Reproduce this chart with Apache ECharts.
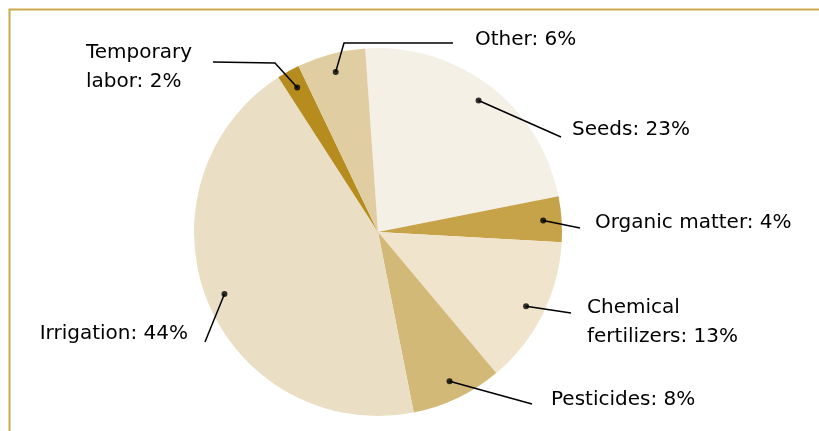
<!DOCTYPE html>
<html>
<head>
<meta charset="utf-8">
<script src="https://cdn.jsdelivr.net/npm/echarts@6/dist/echarts.min.js"></script>
<style>html,body{margin:0;padding:0;background:#fff;}#c{width:819px;height:431px;}</style>
</head>
<body>
<div id="c"></div>
<script>
// ---- data ----
const categories = ['Seeds', 'Organic matter', 'Chemical\nfertilizers', 'Pesticides', 'Irrigation', 'Temporary\nlabor', 'Other'];
const values = [23, 4, 13, 8, 44, 2, 6];

// ---- style / layout (not data) ----
const colors = ['#f5f0e5', '#c6a248', '#f0e4cc', '#d3b977', '#eadfc4', '#b58c1d', '#e0cea2'];
const CX = 378, CY = 232, R = 184, START = 94, DOT_FRAC = 0.9;
const labelPos = [
  {x: 572, y: 130, align: 'left',  end: [561, 137]},
  {x: 595, y: 223, align: 'left',  end: [580, 228]},
  {x: 587, y: 322, align: 'left',  end: [571, 313]},
  {x: 551, y: 400, align: 'left',  end: [532, 404]},
  {x: 188, y: 334, align: 'right', end: [205, 342]},
  {x: 86,  y: 67,  align: 'left',  elbow: [275, 63], end: [213, 62]},
  {x: 475, y: 40,  align: 'left',  elbow: [344, 43], end: [453, 43]}
];

const total = values.reduce((a, b) => a + b, 0);
const mids = [];
let acc = 0;
values.forEach(v => { mids.push((acc + v / 2) / total * 100); acc += v; });

function startPoint(i) {
  const a = (START - mids[i] * 3.6) * Math.PI / 180;
  const r = R * DOT_FRAC;
  return [CX + r * Math.cos(a), CY - r * Math.sin(a)];
}

const pieData = categories.map((n, i) => ({name: n, value: values[i], itemStyle: {color: colors[i]}}));

const chart = echarts.init(document.getElementById('c'), null, {renderer: 'canvas'});
chart.setOption({
  animation: false,
  backgroundColor: '#ffffff',
  graphic: [{
    type: 'polyline',
    shape: {points: [[9.5, 431], [9.5, 9.5], [819, 9.5]]},
    style: {stroke: '#c9a94f', lineWidth: 2, fill: null},
    silent: true
  }],
  polar: {center: [CX, CY], radius: R},
  angleAxis: {type: 'value', min: 0, max: 100, startAngle: START, clockwise: true, show: false},
  radiusAxis: {type: 'value', min: 0, max: 1, show: false},
  series: [{
    type: 'pie',
    center: [CX, CY],
    radius: R,
    startAngle: START,
    clockwise: true,
    silent: true,
    z: 1,
    data: pieData,
    itemStyle: {borderWidth: 0},
    label: {show: false},
    labelLine: {show: false}
  }, {
    type: 'pie',
    center: [CX, CY],
    radius: R,
    startAngle: START,
    clockwise: true,
    avoidLabelOverlap: false,
    silent: true,
    z: 4,
    data: categories.map((n, i) => ({name: n, value: values[i]})),
    itemStyle: {color: 'rgba(0,0,0,0)', borderWidth: 0},
    label: {
      show: true,
      position: 'outside',
      formatter: '{b}: {c}%',
      fontFamily: 'DejaVu Sans',
      fontSize: 20,
      lineHeight: 29,
      color: '#000'
    },
    labelLine: {show: true, showAbove: true, smooth: false, lineStyle: {color: '#000', width: 1.5}},
    labelLayout: function (p) {
      const L = labelPos[p.dataIndex];
      const pts = [startPoint(p.dataIndex)];
      if (L.elbow) pts.push(L.elbow);
      pts.push(L.end);
      return {x: L.x, y: L.y, align: L.align, verticalAlign: 'middle', labelLinePoints: pts};
    }
  }, {
    type: 'scatter',
    coordinateSystem: 'polar',
    symbol: 'circle',
    symbolSize: 6,
    silent: true,
    itemStyle: {color: '#000'},
    data: mids.map(m => [DOT_FRAC, m]),
    z: 5
  }]
});
</script>
</body>
</html>
